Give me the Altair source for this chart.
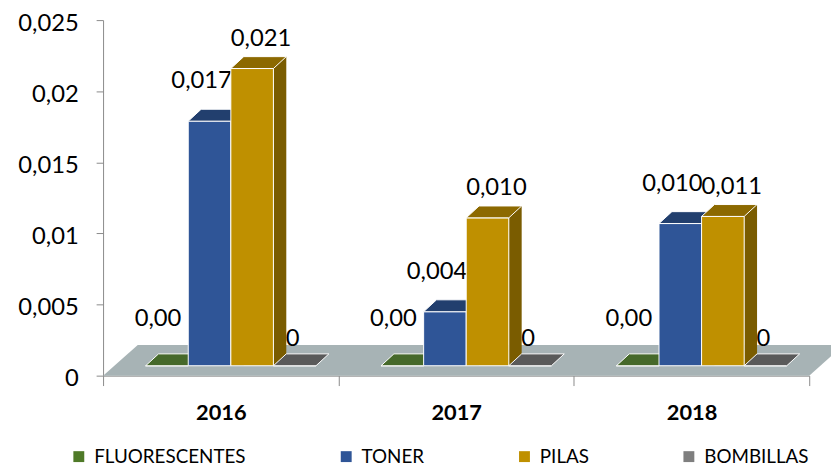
import altair as alt
import pandas as pd

# ---------------- data ----------------
years = ["2016", "2017", "2018"]
series = ["FLUORESCENTES", "TONER", "PILAS", "BOMBILLAS"]
fluorescentes = [0.0, 0.0, 0.0]
toner = [0.0172, 0.0038, 0.0100]
pilas = [0.0209, 0.0104, 0.0105]
bombillas = [0.0, 0.0, 0.0]
fluorescentes_labels = ["0,00", "0,00", "0,00"]
toner_labels = ["0,017", "0,004", "0,010"]
pilas_labels = ["0,021", "0,010", "0,011"]
bombillas_labels = ["0", "0", "0"]
y_ticks = [0, 0.005, 0.01, 0.015, 0.02, 0.025]

# ---------------- styles ----------------
front_colors = ["#4F7A28", "#2F5597", "#BF9000", "#7F7F7F"]
top_colors = ["#46692A", "#223F6E", "#8C6900", "#5A5A5A"]
side_colors = ["#46692A", "#1F3864", "#7A5C00", "#4A4A4A"]
FONT = "Lato"

W, H = 713, 359
BAND = W / len(years)
BAR_W = 43
BASE = 10          # bars stand a little above the floor front edge
DX, DY = 13, 12    # 3D depth
label_dx = [-9, -8, 9, -2]
label_dy = [-57, -50, -40, -37]

rows = []
for s, vals, labs in zip(
    series,
    [fluorescentes, toner, pilas, bombillas],
    [fluorescentes_labels, toner_labels, pilas_labels, bombillas_labels],
):
    for yr, v, lb in zip(years, vals, labs):
        rows.append({"year": yr, "serie": s, "value": v, "label": lb})
df = pd.DataFrame(rows)

x_enc = alt.X(
    "year:N",
    scale=alt.Scale(domain=years, paddingInner=0, paddingOuter=0),
    axis=alt.Axis(
        title=None,
        labelFont=FONT,
        labelFontSize=22,
        labelFontWeight="bold",
        labelColor="#000000",
        labelAngle=0,
        labelPadding=17,
        tickBand="extent",
        tickSize=10,
        tickColor="#8A8A8A",
        domainColor="#8A8A8A",
        grid=False,
    ),
)
y_enc = alt.Y(
    "value:Q",
    scale=alt.Scale(domain=[0, 0.025], nice=False),
    axis=alt.Axis(
        title=None,
        values=y_ticks,
        labelExpr="replace(format(datum.value, '~g'), '.', ',')",
        labelFont=FONT,
        labelFontSize=24,
        labelColor="#000000",
        labelPadding=18,
        labelOffset=3,
        tickSize=7,
        tickColor="#8A8A8A",
        domainColor="#8A8A8A",
        grid=False,
    ),
)

base = alt.Chart(df)

# floor (decorative parallelogram)
floor = alt.Chart(alt.Data(values=[{"f": 0}])).mark_point(
    shape="M0,0L713,0L748,-31L35,-31Z",
    size=4,
    filled=True,
    fill="#A7B3B5",
    opacity=1,
    strokeWidth=0,
).encode(x=alt.value(0), y=alt.datum(0, scale=alt.Scale(domain=[0, 0.025], nice=False)))

layers = [floor]
for i, s in enumerate(series):
    off = BAR_W * (i + 1) + BAR_W / 2 - BAND / 2
    sub = base.transform_filter(alt.datum.serie == s)
    side = sub.transform_filter(alt.datum.value > 0).mark_bar(
        width=DX,
        xOffset=off + BAR_W / 2 + DX / 2,
        yOffset=-(BASE + DY),
        y2Offset=-BASE,
        color=side_colors[i],
    ).encode(x=x_enc, y=y_enc, y2=alt.datum(0))
    front = sub.mark_bar(
        width=BAR_W,
        xOffset=off,
        yOffset=-BASE,
        y2Offset=-BASE,
        stroke="white",
        strokeWidth=1,
    ).encode(
        x=x_enc,
        y=y_enc,
        y2=alt.datum(0),
        color=alt.Color(
            "serie:N",
            scale=alt.Scale(domain=series, range=front_colors),
            legend=alt.Legend(
                title=None,
                orient="none",
                legendX=-34,
                legendY=431,
                direction="horizontal",
                symbolType="square",
                symbolSize=121,
                symbolStrokeWidth=0,
                labelFont=FONT,
                labelFontSize=19,
                labelColor="#000000",
                labelOffset=6,
                columnPadding=91,
            ),
        ),
    )
    top = sub.mark_point(
        shape=f"M{-BAR_W/2},0L{BAR_W/2},0L{BAR_W/2+DX},{-DY}L{-BAR_W/2+DX},{-DY}Z",
        size=4,
        filled=True,
        fill=top_colors[i],
        opacity=1,
        stroke="white",
        strokeWidth=1,
        xOffset=off,
        yOffset=-BASE,
    ).encode(x=x_enc, y=y_enc)
    text = sub.mark_text(
        font=FONT,
        fontSize=24,
        color="#000000",
        baseline="middle",
        align="center",
        dx=off + label_dx[i],
        dy=label_dy[i],
    ).encode(x=x_enc, y=y_enc, text="label:N")
    layers += [side, front, top]
    layers.append(text)

chart = (
    alt.layer(*layers)
    .properties(
        width=W,
        height=H,
        autosize="none",
        padding={"left": 96, "top": 10, "right": 22, "bottom": 90},
        background="white",
    )
    .configure_view(stroke=None)
)

chart.save("out.html", embed_options={"renderer": "svg", "actions": False})
